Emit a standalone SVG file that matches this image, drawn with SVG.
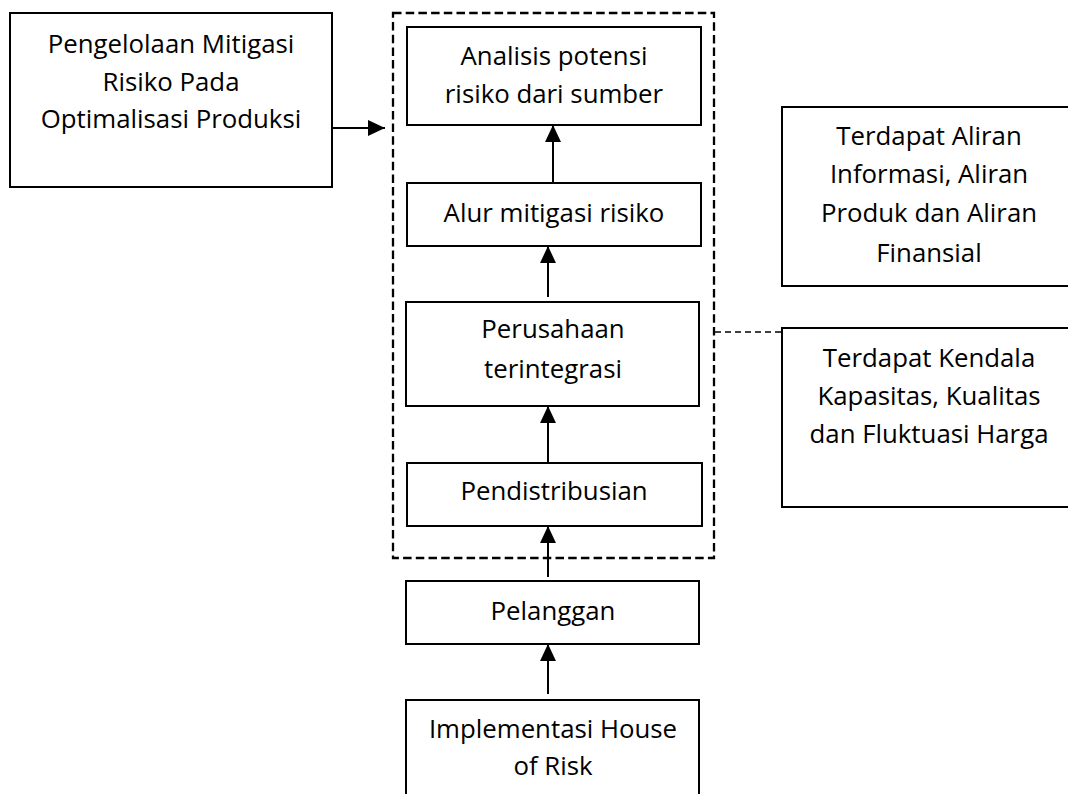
<svg xmlns="http://www.w3.org/2000/svg" width="1068" height="794" viewBox="0 0 1068 794">
  <style>
    .box { fill: #ffffff; stroke: #000000; stroke-width: 2; }
    .label { font-family: "Open Sans", "Liberation Sans", sans-serif; font-size: 25.8px; fill: #000000; text-anchor: middle; }
    .flow { stroke: #000000; stroke-width: 2; fill: none; }
    .group { fill: none; stroke: #000000; stroke-width: 2.3; stroke-dasharray: 8.5 4.2; }
    .link { fill: none; stroke: #000000; stroke-width: 1.4; stroke-dasharray: 6 4; }
  </style>
  <defs>
    <marker id="head" viewBox="0 0 17 16" refX="17" refY="8" markerWidth="17" markerHeight="16" markerUnits="userSpaceOnUse" orient="auto">
      <path d="M0,0 L17,8 L0,16 Z" fill="#000000"/>
    </marker>
  </defs>
  <rect width="1068" height="794" fill="#ffffff"/>

  <!-- dashed grouping frame around the mitigation steps -->
  <rect id="frame" class="group" x="393" y="13" width="321" height="545"/>

  <g id="pengelolaan">
    <rect class="box" x="10" y="13" width="322" height="174"/>
    <text class="label" x="171" y="53">Pengelolaan Mitigasi</text>
    <text class="label" x="171" y="91">Risiko Pada</text>
    <text class="label" x="171" y="128">Optimalisasi Produksi</text>
  </g>

  <g id="analisis">
    <rect class="box" x="407" y="27" width="294" height="98"/>
    <text class="label" x="554" y="65">Analisis potensi</text>
    <text class="label" x="554" y="103">risiko dari sumber</text>
  </g>

  <g id="alur">
    <rect class="box" x="407" y="183" width="294" height="63"/>
    <text class="label" x="554" y="222">Alur mitigasi risiko</text>
  </g>

  <g id="perusahaan">
    <rect class="box" x="406" y="302" width="293" height="104"/>
    <text class="label" x="553" y="338">Perusahaan</text>
    <text class="label" x="553" y="378">terintegrasi</text>
  </g>

  <g id="pendistribusian">
    <rect class="box" x="407" y="463" width="295" height="63"/>
    <text class="label" x="554" y="500">Pendistribusian</text>
  </g>

  <g id="pelanggan">
    <rect class="box" x="406" y="581" width="293" height="63"/>
    <text class="label" x="553" y="620">Pelanggan</text>
  </g>

  <g id="implementasi">
    <rect class="box" x="406" y="700" width="293" height="110"/>
    <text class="label" x="553" y="738">Implementasi House</text>
    <text class="label" x="553" y="775">of Risk</text>
  </g>

  <g id="aliran">
    <rect class="box" x="782" y="107" width="300" height="179"/>
    <text class="label" x="929" y="145">Terdapat Aliran</text>
    <text class="label" x="929" y="183">Informasi, Aliran</text>
    <text class="label" x="929" y="222">Produk dan Aliran</text>
    <text class="label" x="929" y="262">Finansial</text>
  </g>

  <g id="kendala">
    <rect class="box" x="782" y="328" width="300" height="179"/>
    <text class="label" x="929" y="367">Terdapat Kendala</text>
    <text class="label" x="929" y="405">Kapasitas, Kualitas</text>
    <text class="label" x="929" y="443">dan Fluktuasi Harga</text>
  </g>

  <g id="connectors">
    <line class="flow" x1="332" y1="128" x2="385" y2="128" marker-end="url(#head)"/>
    <line class="flow" x1="553" y1="183" x2="553" y2="125" marker-end="url(#head)"/>
    <line class="flow" x1="548" y1="297" x2="548" y2="246" marker-end="url(#head)"/>
    <line class="flow" x1="548" y1="463" x2="548" y2="406" marker-end="url(#head)"/>
    <line class="flow" x1="548" y1="577" x2="548" y2="526" marker-end="url(#head)"/>
    <line class="flow" x1="548" y1="694" x2="548" y2="644" marker-end="url(#head)"/>
    <line class="link" x1="715" y1="332" x2="782" y2="332"/>
  </g>
</svg>
